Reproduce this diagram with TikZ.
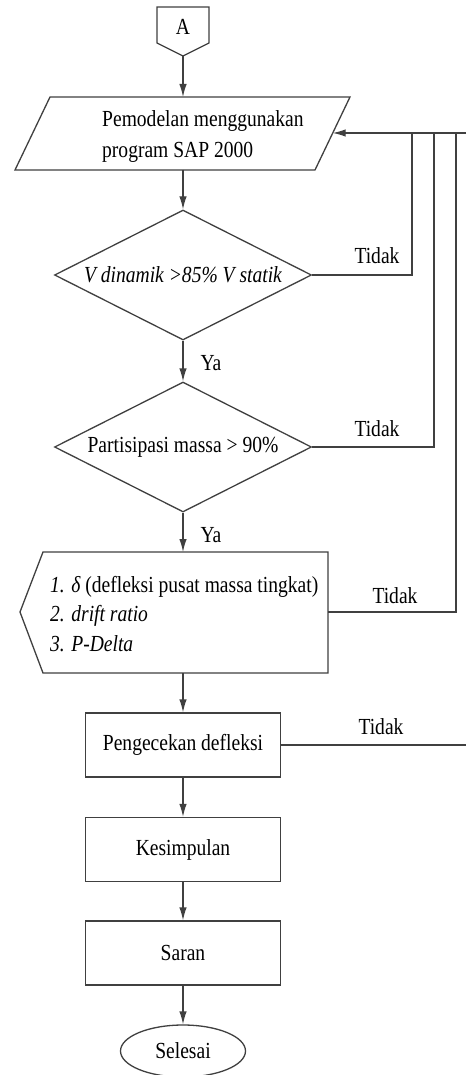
\documentclass[tikz,border=0pt]{standalone}
\usepackage{fontspec}
\setmainfont{Liberation Serif}[FakeStretch=0.85]
\usetikzlibrary{shapes.geometric,arrows.meta}
\begin{document}
\begin{tikzpicture}[x=1pt,y=-1pt,
  every node/.style={font=\fontsize{23}{26}\selectfont, inner sep=0pt, text=black},
  line/.style={draw=black!75, line width=1.3pt},
  arr/.style={line, -{Latex[length=13pt,width=7.5pt]}},
  box/.style={line, rectangle, minimum width=195pt, minimum height=64pt},
  dec/.style={line, diamond, minimum width=257pt, minimum height=130pt, aspect=1.98},
  term/.style={line, ellipse, minimum width=125pt, minimum height=52pt},
]
\useasboundingbox (0,0) rectangle (466,1075);
\fill[white] (0,0) rectangle (466,1075);

% off-page connector A
\draw[line] (157,7) -- (209,7) -- (209,43) -- (183,56) -- (157,43) -- cycle;
\node (A) at (183,27) {A};
\coordinate (Abot) at (183,56);

% input/output (parallelogram)
\draw[line] (50,97) -- (350,97) -- (315,170) -- (15,170) -- cycle;
\coordinate (pmT) at (183,97);
\coordinate (pmB) at (183,170);
\coordinate (pmR) at (332.7,133);
\node[anchor=base west] (pm1) at (102,126.5) {Pemodelan menggunakan};
\node[anchor=base west] (pm2) at (102,158) {program SAP 2000};

% decisions
\node[dec] (d1) at (183,275) {\itshape V dinamik >85\% V statik};
\node[dec] (d2) at (183,447) {Partisipasi massa > 90\%};

% display shape
\draw[line] (43,552) -- (328,552) -- (328,673) -- (43,673) -- (20,612) -- cycle;
\coordinate (dT) at (183,552);
\coordinate (dB) at (183,673);
\coordinate (dR) at (328,612);
\node[anchor=base west] (l1) at (50,592) {{\itshape 1. δ} (defleksi pusat massa tingkat)};
\node[anchor=base west] (l2) at (50,621.5) {\itshape 2. drift ratio};
\node[anchor=base west] (l3) at (50,651) {\itshape 3. P-Delta};

% process boxes
\node[box] (pk) at (183,745) {Pengecekan defleksi};
\node[box] (ks) at (183,849.5) {Kesimpulan};
\node[box] (sr) at (183,953) {Saran};
\node[term] (end) at (183,1051) {Selesai};

% main flow
\draw[arr] (Abot) -- (pmT);
\draw[arr] (pmB) -- (d1.north);
\draw[arr] (d1.south) -- (d2.north);
\node (ya1) at (211,363) {Ya};
\draw[arr] (d2.south) -- (dT);
\node (ya2) at (211,535) {Ya};
\draw[arr] (dB) -- (pk.north);
\draw[arr] (pk.south) -- (ks.north);
\draw[arr] (ks.south) -- (sr.north);
\draw[arr] (sr.south) -- (end.north);

% feedback loops
\coordinate (fb) at (466,133);
\coordinate (j1) at (412,133);
\coordinate (j2) at (434,133);
\coordinate (j3) at (456,133);
\coordinate (pkEnd) at (466,745);
\draw[arr] (fb) -- (pmR);
\draw[line] (d1.east) -| (j1);
\draw[line] (d2.east) -| (j2);
\draw[line] (dR) -| (j3);
\draw[line] (pk.east) -- (pkEnd);
\node (t1) at (377,256) {Tidak};
\node (t2) at (377,428.5) {Tidak};
\node (t3) at (395,595.5) {Tidak};
\node (t4) at (381,727) {Tidak};
\end{tikzpicture}
\end{document}
